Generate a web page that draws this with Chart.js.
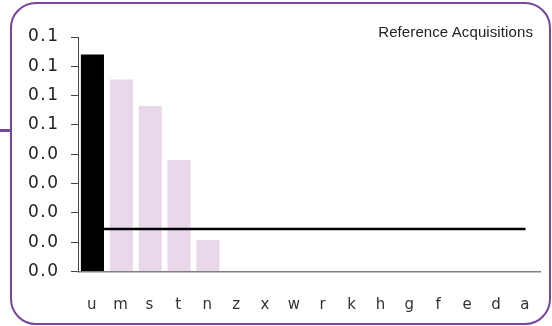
<!DOCTYPE html>
<html>
<head>
<meta charset="utf-8">
<script src="https://cdn.jsdelivr.net/npm/chart.js@4/dist/chart.umd.min.js"></script>
<style>
  html, body { margin: 0; padding: 0; background: #fff; }
  #wrap { position: relative; width: 552px; height: 326px; overflow: hidden; }
  #card { position: absolute; left: 10px; top: 2px; width: 537px; height: 319px; border: 2px solid #7447a0; border-radius: 26px; }
  #stub { position: absolute; left: 0; top: 129px; width: 11px; height: 3px; background: #7447a0; }
  #title { position: absolute; right: 19px; top: 23px; font: 15px "Liberation Sans", Arial, sans-serif; color: #222; letter-spacing: 0.1px; }
  canvas { position: absolute; left: 0; top: 0; }
</style>
</head>
<body>
<div id="wrap">
  <div id="card"></div>
  <div id="stub"></div>
  <canvas id="c" width="552" height="326"></canvas>
  <div id="title">Reference Acquisitions</div>
</div>
<script>
const categories = ['u','m','s','t','n','z','x','w','r','k','h','g','f','e','d','a'];
const highlightValues = [0.148, null, null, null, null, null, null, null, null, null, null, null, null, null, null, null];
const otherValues = [null, 0.131, 0.113, 0.076, 0.0215, 0, 0, 0, 0, 0, 0, 0, 0, 0, 0, 0];
const referenceLine = [0.029, 0.029, 0.029, 0.029, 0.029, 0.029, 0.029, 0.029, 0.029, 0.029, 0.029, 0.029, 0.029, 0.029, 0.029, 0.029];
const yMax = 0.16;
const yStep = 0.02;

const fam = '"DejaVu Sans", sans-serif';

const spacingPlugin = {
  id: 'spacing',
  beforeDraw(chart) { chart.ctx.letterSpacing = '1.5px'; },
  afterDraw(chart) { chart.ctx.letterSpacing = '0px'; }
};

new Chart(document.getElementById('c'), {
  type: 'bar',
  plugins: [spacingPlugin],
  data: {
    labels: categories,
    datasets: [
      { type: 'bar', data: highlightValues, backgroundColor: '#000000', order: 0,
        barPercentage: 0.8, categoryPercentage: 1.0 },
      { type: 'line', data: referenceLine, borderColor: '#000000', backgroundColor: '#000000',
        borderWidth: 2.5, pointRadius: 0, pointHoverRadius: 0, tension: 0, order: 1 },
      { type: 'bar', data: otherValues, backgroundColor: '#e9d7ea', order: 2,
        barPercentage: 0.8, categoryPercentage: 1.0 }
    ]
  },
  options: {
    responsive: false,
    animation: false,
    events: [],
    layout: { padding: { top: 37, right: 12, bottom: 0, left: 0 } },
    plugins: { legend: { display: false }, title: { display: false }, tooltip: { enabled: false } },
    scales: {
      x: {
        stacked: true,
        grid: { display: false },
        border: { display: true, color: '#808080', width: 1.5 },
        ticks: { color: '#333333', font: { family: fam, size: 15 }, padding: 17, maxRotation: 0, autoSkip: false },
        afterFit: (s) => { s.height = 54.5; }
      },
      y: {
        stacked: false,
        min: 0, max: yMax,
        grid: { display: true, drawOnChartArea: false, drawTicks: true, tickLength: 7, color: '#444444' },
        border: { display: true, color: '#444444', width: 1 },
        ticks: {
          stepSize: yStep, color: '#222222', font: { family: fam, size: 17 }, padding: 11.5,
          callback: (v) => (Math.floor(v * 10 + 1e-9) / 10).toFixed(1)
        },
        afterFit: (s) => { s.width = 78; }
      }
    }
  }
});
</script>
</body>
</html>
